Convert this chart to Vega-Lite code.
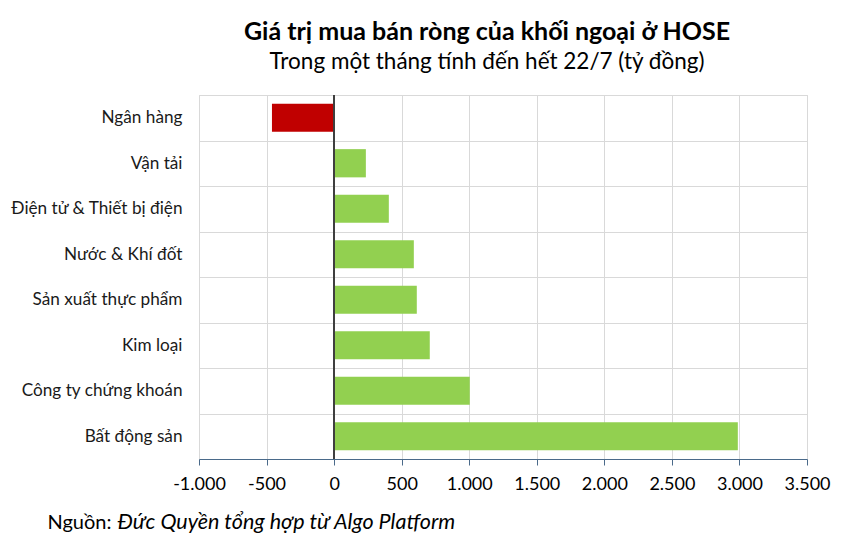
{
  "$schema": "https://vega.github.io/schema/vega-lite/v6.json",
  "width": 608,
  "height": 364,
  "autosize": {"type": "none"},
  "padding": {"left": 199, "top": 95, "right": 38, "bottom": 83},
  "background": "white",
  "config": {
    "locale": {"number": {"decimal": ",", "thousands": ".", "grouping": [3], "currency": ["", " đ"], "minus": "-"}},
    "view": {"stroke": "#d9d9d9"},
    "font": "Lato"
  },
  "title": {
    "text": "Giá trị mua bán ròng của khối ngoại ở HOSE",
    "subtitle": "Trong một tháng tính đến hết 22/7 (tỷ đồng)",
    "font": "Lato",
    "fontSize": 25,
    "fontWeight": "bold",
    "color": "#000000",
    "subtitleFont": "Lato",
    "subtitleFontSize": 22.5,
    "subtitleFontWeight": "normal",
    "subtitleColor": "#000000",
    "subtitlePadding": 6,
    "anchor": "middle",
    "dx": -16,
    "offset": 13
  },
  "data": {
    "values": [
      {"sector": "Ngân hàng", "value": -460},
      {"sector": "Vận tải", "value": 235},
      {"sector": "Điện tử & Thiết bị điện", "value": 405},
      {"sector": "Nước & Khí đốt", "value": 590},
      {"sector": "Sản xuất thực phẩm", "value": 612},
      {"sector": "Kim loại", "value": 708},
      {"sector": "Công ty chứng khoán", "value": 1004},
      {"sector": "Bất động sản", "value": 2988}
    ]
  },
  "layer": [
    {
      "mark": {"type": "bar", "height": {"band": 0.62}},
      "encoding": {
        "y": {
          "field": "sector",
          "type": "nominal",
          "sort": null,
          "scale": {"paddingInner": 0, "paddingOuter": 0},
          "axis": {
            "title": "Đức Quyền tổng hợp từ Algo Platform",
            "titleAngle": 0,
            "titleX": -82,
            "titleY": 433,
            "titleAlign": "left",
            "titleBaseline": "alphabetic",
            "titleFont": "Lato",
            "titleFontStyle": "italic",
            "titleFontWeight": "normal",
            "titleFontSize": 21.5,
            "titleColor": "#000000",
            "labelFont": "Lato",
            "labelFontSize": 17.2,
            "labelColor": "#1a1a1a",
            "labelPadding": 17,
            "labelLimit": 300,
            "ticks": false,
            "domain": false,
            "grid": true,
            "gridColor": "#d9d9d9",
            "tickBand": "extent"
          }
        },
        "x": {
          "field": "value",
          "type": "quantitative",
          "scale": {"domain": [-1000, 3500], "nice": false},
          "axis": {
            "values": [-1000, -500, 0, 500, 1000, 1500, 2000, 2500, 3000, 3500],
            "format": ",.0f",
            "labelFont": "Lato",
            "labelFontSize": 18,
            "labelColor": "#000000",
            "labelPadding": 10,
            "labelFlush": false,
            "labelOverlap": false,
            "domainColor": "#4a6a8a",
            "tickColor": "#4a6a8a",
            "tickSize": 6,
            "grid": true,
            "gridColor": "#d9d9d9",
            "title": "Nguồn:",
            "titleX": -152,
            "titleY": 69,
            "titleAlign": "left",
            "titleBaseline": "alphabetic",
            "titleFont": "Lato",
            "titleFontSize": 20,
            "titleFontWeight": "normal",
            "titleColor": "#000000"
          }
        },
        "color": {
          "condition": {"test": "datum.value < 0", "value": "#c00000"},
          "value": "#92d050"
        }
      }
    },
    {
      "mark": {"type": "rule", "color": "#404040", "strokeWidth": 1.3},
      "encoding": {"x": {"datum": 0}}
    }
  ]
}
